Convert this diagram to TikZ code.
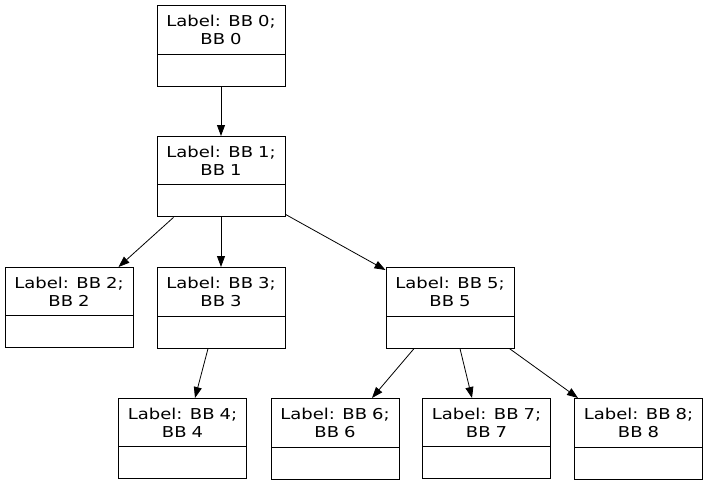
\documentclass[tikz,border=0pt]{standalone}
\usepackage{fontspec}
\setmainfont[FakeStretch=1.2]{DejaVu Sans}
\usetikzlibrary{shapes.multipart,arrows.meta}

\tikzset{
  bb/.style={draw, line width=1pt, rectangle split, rectangle split parts=2,
    text width=118pt, align=center, inner xsep=5pt, inner ysep=9pt,
    anchor=north, font=\fontsize{15pt}{18pt}\selectfont},
  edge/.style={->, line width=0.8pt}
}
\newcommand{\bbfoot}{\rule{0pt}{13pt}}

\begin{document}
\begin{tikzpicture}[x=1pt, y=-1pt, >={Triangle[length=11pt,width=8pt]}]
    \useasboundingbox (0,0) rectangle (708,485);

    % Blocs
    \node[bb] (bb0) at (221,5) {Label: BB 0;\\ BB 0 \nodepart{two}\bbfoot};
    \node[bb] (bb1) at (221,136) {Label: BB 1;\\ BB 1 \nodepart{two}\bbfoot};
    \node[bb] (bb2) at (69,267) {Label: BB 2;\\ BB 2 \nodepart{two}\bbfoot};
    \node[bb] (bb3) at (221,267) {Label: BB 3;\\ BB 3 \nodepart{two}\bbfoot};
    \node[bb] (bb5) at (450,267) {Label: BB 5;\\ BB 5 \nodepart{two}\bbfoot};
    \node[bb] (bb4) at (182.5,398) {Label: BB 4;\\ BB 4 \nodepart{two}\bbfoot};
    \node[bb] (bb6) at (335,398) {Label: BB 6;\\ BB 6 \nodepart{two}\bbfoot};
    \node[bb] (bb7) at (486.5,398) {Label: BB 7;\\ BB 7 \nodepart{two}\bbfoot};
    \node[bb] (bb8) at (638.5,398) {Label: BB 8;\\ BB 8 \nodepart{two}\bbfoot};

    % Aretes
    \draw[edge] (bb0.south) -- (bb1.north);
    \draw[edge] ([xshift=17pt]bb1.south west) -- ([xshift=-15pt]bb2.north east);
    \draw[edge] (bb1.south) -- (bb3.north);
    \draw[edge] ([yshift=3pt]bb1.south east) -- ([yshift=-3pt]bb5.north west);
    \draw[edge] ([xshift=-13pt]bb3.south) -- ([xshift=12.5pt]bb4.north);
    \draw[edge] ([xshift=-36pt]bb5.south) -- ([xshift=37pt]bb6.north);
    \draw[edge] ([xshift=10pt]bb5.south) -- ([xshift=-14.5pt]bb7.north);
    \draw[edge] ([xshift=-5pt]bb5.south east) -- ([xshift=4pt]bb8.north west);
\end{tikzpicture}
\end{document}
